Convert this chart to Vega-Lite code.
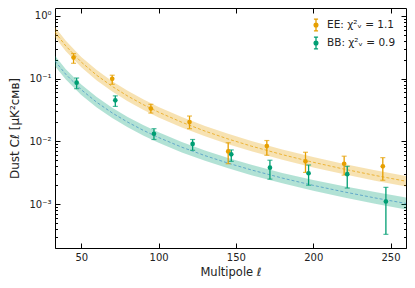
{
  "$schema": "https://vega.github.io/schema/vega-lite/v6.json",
  "width": 351,
  "height": 240,
  "autosize": {"type": "none"},
  "padding": {"left": 55, "top": 8, "right": 9, "bottom": 40},
  "config": {
    "view": {"stroke": "black", "strokeWidth": 1},
    "axis": {"grid": false, "domainColor": "black", "tickColor": "black", "labelColor": "#222", "titleColor": "#222", "labelFont": "DejaVu Sans", "titleFont": "DejaVu Sans", "labelFontSize": 10, "titleFontSize": 11, "titleFontWeight": "normal"},
    "legend": {"labelFont": "DejaVu Sans", "labelFontSize": 10.5, "labelColor": "#222"}
  },
  "datasets": {
    "pts": [
      {"spec": "EE", "l": 45, "c": 0.216, "lo": 0.175, "hi": 0.25},
      {"spec": "EE", "l": 70, "c": 0.099, "lo": 0.081, "hi": 0.113},
      {"spec": "EE", "l": 95, "c": 0.0332, "lo": 0.0282, "hi": 0.0389},
      {"spec": "EE", "l": 120, "c": 0.0203, "lo": 0.0159, "hi": 0.0253},
      {"spec": "EE", "l": 145, "c": 0.0069, "lo": 0.0044, "hi": 0.0095},
      {"spec": "EE", "l": 170, "c": 0.0084, "lo": 0.006, "hi": 0.0103},
      {"spec": "EE", "l": 195, "c": 0.0048, "lo": 0.0032, "hi": 0.0067},
      {"spec": "EE", "l": 220, "c": 0.0044, "lo": 0.0029, "hi": 0.0058},
      {"spec": "EE", "l": 245, "c": 0.004, "lo": 0.0024, "hi": 0.0055},
      {"spec": "BB", "l": 47, "c": 0.086, "lo": 0.069, "hi": 0.102},
      {"spec": "BB", "l": 72, "c": 0.045, "lo": 0.036, "hi": 0.053},
      {"spec": "BB", "l": 97, "c": 0.0132, "lo": 0.0107, "hi": 0.0159},
      {"spec": "BB", "l": 122, "c": 0.0091, "lo": 0.0072, "hi": 0.0107},
      {"spec": "BB", "l": 147, "c": 0.0062, "lo": 0.0048, "hi": 0.0073},
      {"spec": "BB", "l": 172, "c": 0.0038, "lo": 0.0025, "hi": 0.005},
      {"spec": "BB", "l": 197, "c": 0.0031, "lo": 0.002, "hi": 0.0042},
      {"spec": "BB", "l": 222, "c": 0.003, "lo": 0.0018, "hi": 0.004},
      {"spec": "BB", "l": 247, "c": 0.0011, "lo": 0.00033, "hi": 0.00185}
    ],
    "model": [
      {"spec": "EE", "l": 33, "c": 0.55, "lo": 0.455, "hi": 0.665},
      {"spec": "EE", "l": 40, "c": 0.3303, "lo": 0.273, "hi": 0.3997},
      {"spec": "EE", "l": 50, "c": 0.1829, "lo": 0.1512, "hi": 0.2213},
      {"spec": "EE", "l": 60, "c": 0.1128, "lo": 0.0932, "hi": 0.1365},
      {"spec": "EE", "l": 70, "c": 0.07497, "lo": 0.06196, "hi": 0.09071},
      {"spec": "EE", "l": 80, "c": 0.05263, "lo": 0.0435, "hi": 0.06368},
      {"spec": "EE", "l": 90, "c": 0.03853, "lo": 0.03184, "hi": 0.04662},
      {"spec": "EE", "l": 100, "c": 0.02914, "lo": 0.02408, "hi": 0.03526},
      {"spec": "EE", "l": 115, "c": 0.02012, "lo": 0.01663, "hi": 0.02435},
      {"spec": "EE", "l": 130, "c": 0.01454, "lo": 0.01202, "hi": 0.01759},
      {"spec": "EE", "l": 145, "c": 0.01089, "lo": 0.009, "hi": 0.01318},
      {"spec": "EE", "l": 160, "c": 0.008389, "lo": 0.006933, "hi": 0.01015},
      {"spec": "EE", "l": 180, "c": 0.006139, "lo": 0.005074, "hi": 0.007428},
      {"spec": "EE", "l": 200, "c": 0.00464, "lo": 0.003835, "hi": 0.005614},
      {"spec": "EE", "l": 220, "c": 0.003605, "lo": 0.002979, "hi": 0.004362},
      {"spec": "EE", "l": 240, "c": 0.002863, "lo": 0.002366, "hi": 0.003464},
      {"spec": "EE", "l": 260, "c": 0.002316, "lo": 0.001914, "hi": 0.002802},
      {"spec": "BB", "l": 33, "c": 0.19, "lo": 0.157, "hi": 0.2299},
      {"spec": "BB", "l": 40, "c": 0.1168, "lo": 0.0965, "hi": 0.1413},
      {"spec": "BB", "l": 50, "c": 0.06641, "lo": 0.05488, "hi": 0.08036},
      {"spec": "BB", "l": 60, "c": 0.04187, "lo": 0.0346, "hi": 0.05066},
      {"spec": "BB", "l": 70, "c": 0.02835, "lo": 0.02343, "hi": 0.0343},
      {"spec": "BB", "l": 80, "c": 0.02022, "lo": 0.01671, "hi": 0.02447},
      {"spec": "BB", "l": 90, "c": 0.01501, "lo": 0.0124, "hi": 0.01816},
      {"spec": "BB", "l": 100, "c": 0.0115, "lo": 0.0095, "hi": 0.01392},
      {"spec": "BB", "l": 115, "c": 0.008073, "lo": 0.00667, "hi": 0.00977},
      {"spec": "BB", "l": 130, "c": 0.00592, "lo": 0.00489, "hi": 0.00716},
      {"spec": "BB", "l": 145, "c": 0.004491, "lo": 0.00371, "hi": 0.00543},
      {"spec": "BB", "l": 160, "c": 0.003502, "lo": 0.002894, "hi": 0.004237},
      {"spec": "BB", "l": 180, "c": 0.002599, "lo": 0.002148, "hi": 0.003145},
      {"spec": "BB", "l": 200, "c": 0.00199, "lo": 0.001632, "hi": 0.002428},
      {"spec": "BB", "l": 220, "c": 0.001564, "lo": 0.001272, "hi": 0.001924},
      {"spec": "BB", "l": 240, "c": 0.001255, "lo": 0.001013, "hi": 0.001556},
      {"spec": "BB", "l": 260, "c": 0.001025, "lo": 0.000822, "hi": 0.001279}
    ]
  },
  "layer": [
    {
      "data": {"name": "model"},
      "transform": [{"filter": "datum.spec == 'EE'"}],
      "mark": {"type": "area", "color": "#e69f00", "opacity": 0.3, "clip": true},
      "encoding": {
        "x": {"field": "l", "type": "quantitative", "scale": {"domain": [33, 260], "nice": false, "zero": false},
          "axis": {"orient": "bottom", "values": [50, 100, 150, 200, 250], "tickSize": -5, "labelPadding": 9, "title": "Multipole ℓ", "titlePadding": 4, "titleFontSize": 11.5, "domain": false}},
        "y": {"field": "lo", "type": "quantitative", "scale": {"type": "log", "domain": [0.0002, 1.33], "nice": false},
          "axis": {"orient": "left", "domain": false,
            "values": [0.0002, 0.0003, 0.0004, 0.0005, 0.0006, 0.0007, 0.0008, 0.0009, 0.001, 0.002, 0.003, 0.004, 0.005, 0.006, 0.007, 0.008, 0.009, 0.01, 0.02, 0.03, 0.04, 0.05, 0.06, 0.07, 0.08, 0.09, 0.1, 0.2, 0.3, 0.4, 0.5, 0.6, 0.7, 0.8, 0.9, 1],
            "tickSize": {"condition": {"test": "datum.value == 1 || datum.value == 0.1 || datum.value == 0.01 || datum.value == 0.001", "value": -5}, "value": -2.5},
            "labelExpr": "datum.value == 1 ? '10⁰' : datum.value == 0.1 ? '10⁻¹' : datum.value == 0.01 ? '10⁻²' : datum.value == 0.001 ? '10⁻³' : ''",
            "labelPadding": 9, "title": "Dust Cℓ [μK²ᴄᴍʙ]", "titleFontSize": 12, "titlePadding": 7}},
        "y2": {"field": "hi"}
      }
    },
    {
      "data": {"name": "model"},
      "transform": [{"filter": "datum.spec == 'BB'"}],
      "mark": {"type": "area", "color": "#009e73", "opacity": 0.3, "clip": true},
      "encoding": {
        "x": {"field": "l", "type": "quantitative", "scale": {"domain": [33, 260], "nice": false, "zero": false}, "axis": null},
        "y": {"field": "lo", "type": "quantitative", "scale": {"type": "log", "domain": [0.0002, 1.33], "nice": false}, "axis": null},
        "y2": {"field": "hi"}
      }
    },
    {
      "data": {"name": "model"},
      "transform": [{"filter": "datum.spec == 'EE'"}],
      "mark": {"type": "line", "color": "#e69f00", "strokeWidth": 0.7, "strokeDash": [3, 2], "clip": true},
      "encoding": {
        "x": {"field": "l", "type": "quantitative", "axis": null},
        "y": {"field": "c", "type": "quantitative", "axis": null}
      }
    },
    {
      "data": {"name": "model"},
      "transform": [{"filter": "datum.spec == 'BB'"}],
      "mark": {"type": "line", "color": "#3f8fc4", "strokeWidth": 0.7, "strokeDash": [3, 2], "clip": true},
      "encoding": {
        "x": {"field": "l", "type": "quantitative", "axis": null},
        "y": {"field": "c", "type": "quantitative", "axis": null}
      }
    },
    {
      "data": {"name": "pts"},
      "mark": {"type": "rule", "strokeWidth": 1.3},
      "encoding": {
        "x": {"field": "l", "type": "quantitative", "axis": null},
        "y": {"field": "lo", "type": "quantitative", "axis": null},
        "y2": {"field": "hi"},
        "color": {"field": "spec", "type": "nominal", "scale": {"domain": ["EE", "BB"], "range": ["#e69f00", "#009e73"]}}
      }
    },
    {
      "data": {"name": "pts"},
      "mark": {"type": "tick", "orient": "horizontal", "size": 5, "thickness": 1.2},
      "encoding": {
        "x": {"field": "l", "type": "quantitative", "axis": null},
        "y": {"field": "lo", "type": "quantitative", "axis": null},
        "color": {"field": "spec", "type": "nominal"}
      }
    },
    {
      "data": {"name": "pts"},
      "mark": {"type": "tick", "orient": "horizontal", "size": 5, "thickness": 1.2},
      "encoding": {
        "x": {"field": "l", "type": "quantitative", "axis": null},
        "y": {"field": "hi", "type": "quantitative", "axis": null},
        "color": {"field": "spec", "type": "nominal"}
      }
    },
    {
      "data": {"name": "pts"},
      "mark": {"type": "circle", "size": 22, "opacity": 1},
      "encoding": {
        "x": {"field": "l", "type": "quantitative", "scale": {"domain": [33, 260], "nice": false, "zero": false},
          "axis": {"orient": "top", "values": [50, 100, 150, 200, 250], "tickSize": -5, "labels": false, "title": null, "domain": false}},
        "y": {"field": "c", "type": "quantitative", "scale": {"type": "log", "domain": [0.0002, 1.33], "nice": false},
          "axis": {"orient": "right", "domain": false, "labels": false, "title": null,
            "values": [0.0002, 0.0003, 0.0004, 0.0005, 0.0006, 0.0007, 0.0008, 0.0009, 0.001, 0.002, 0.003, 0.004, 0.005, 0.006, 0.007, 0.008, 0.009, 0.01, 0.02, 0.03, 0.04, 0.05, 0.06, 0.07, 0.08, 0.09, 0.1, 0.2, 0.3, 0.4, 0.5, 0.6, 0.7, 0.8, 0.9, 1],
            "tickSize": {"condition": {"test": "datum.value == 1 || datum.value == 0.1 || datum.value == 0.01 || datum.value == 0.001", "value": -5}, "value": -2.5}}},
        "color": {"field": "spec", "type": "nominal",
          "legend": {"orient": "top-right", "offset": 10, "title": null, "padding": 0, "rowPadding": 0, "symbolSize": 140, "symbolStrokeWidth": 1.3, "symbolOpacity": 1,
            "symbolType": "M-0.35,-1H0.35M0,-1V1M-0.35,1H0.35M-0.32,0A0.32,0.32,0,1,0,0.32,0A0.32,0.32,0,1,0,-0.32,0Z",
            "labelExpr": "datum.label == 'EE' ? 'EE: χ²ᵥ = 1.1' : 'BB: χ²ᵥ = 0.9'",
            "encode": {"symbols": {"update": {"stroke": {"scale": "color", "field": "value"}, "fillOpacity": {"value": 1}, "opacity": {"value": 1}}}}}}
      }
    }
  ],
  "resolve": {"axis": {"x": "independent", "y": "independent"}}
}
